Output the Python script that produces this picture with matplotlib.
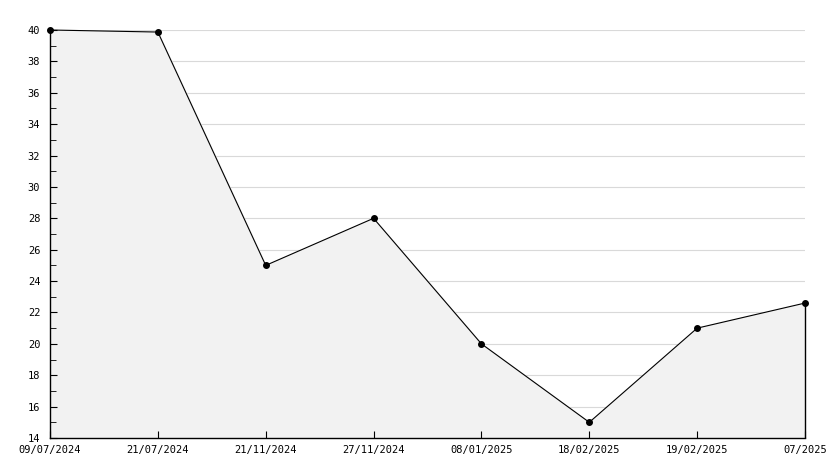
import matplotlib
matplotlib.use("Agg")
import matplotlib.pyplot as plt
from matplotlib.ticker import MultipleLocator

# Data
dates = ["09/07/2024", "21/07/2024", "21/11/2024", "27/11/2024",
         "08/01/2025", "18/02/2025", "19/02/2025", "07/2025"]
values = [40, 39.87, 25, 28, 20, 15, 21, 22.6]

W, H = 834, 468
fig = plt.figure(figsize=(W / 100, H / 100), dpi=100)
ax = fig.add_axes([50 / W, 30 / H, 755 / W, 408 / H])

x = list(range(len(dates)))
ymin, ymax = 14, 40

# grid drawn by hand so the fill can sit over it while ticks stay on top
for yv in range(ymin + 2, ymax + 1, 2):
    ax.axhline(yv, color="#d9d9d9", linewidth=0.8, zorder=1)

ax.fill_between(x, values, ymin, color="#f2f2f2", zorder=2)
ax.plot(x, values, color="black", linewidth=0.8, zorder=3, clip_on=False)
ax.plot(x, values, "o", color="black", markersize=4, zorder=4, clip_on=False)
ax.vlines(x[-1], ymin, values[-1], color="black", linewidth=1.0, zorder=3,
          clip_on=False)

ax.set_xlim(0, len(dates) - 1)
ax.set_ylim(ymin, ymax)
ax.set_xticks(x)
ax.set_xticklabels(dates)
ax.yaxis.set_major_locator(MultipleLocator(2))
ax.yaxis.set_minor_locator(MultipleLocator(1))
ax.set_axisbelow(False)

for side in ["top", "right"]:
    ax.spines[side].set_visible(False)
for side in ["left", "bottom"]:
    ax.spines[side].set_linewidth(1.0)

ax.tick_params(axis="x", which="major", direction="in", length=5,
               labelsize=7.5, pad=5)
ax.tick_params(axis="y", which="major", direction="in", length=5,
               labelsize=7.5, pad=7)
ax.tick_params(axis="y", which="minor", direction="in", length=4)
for lab in ax.get_xticklabels() + ax.get_yticklabels():
    lab.set_family("DejaVu Sans Mono")

fig.savefig("out.png", dpi=100)
